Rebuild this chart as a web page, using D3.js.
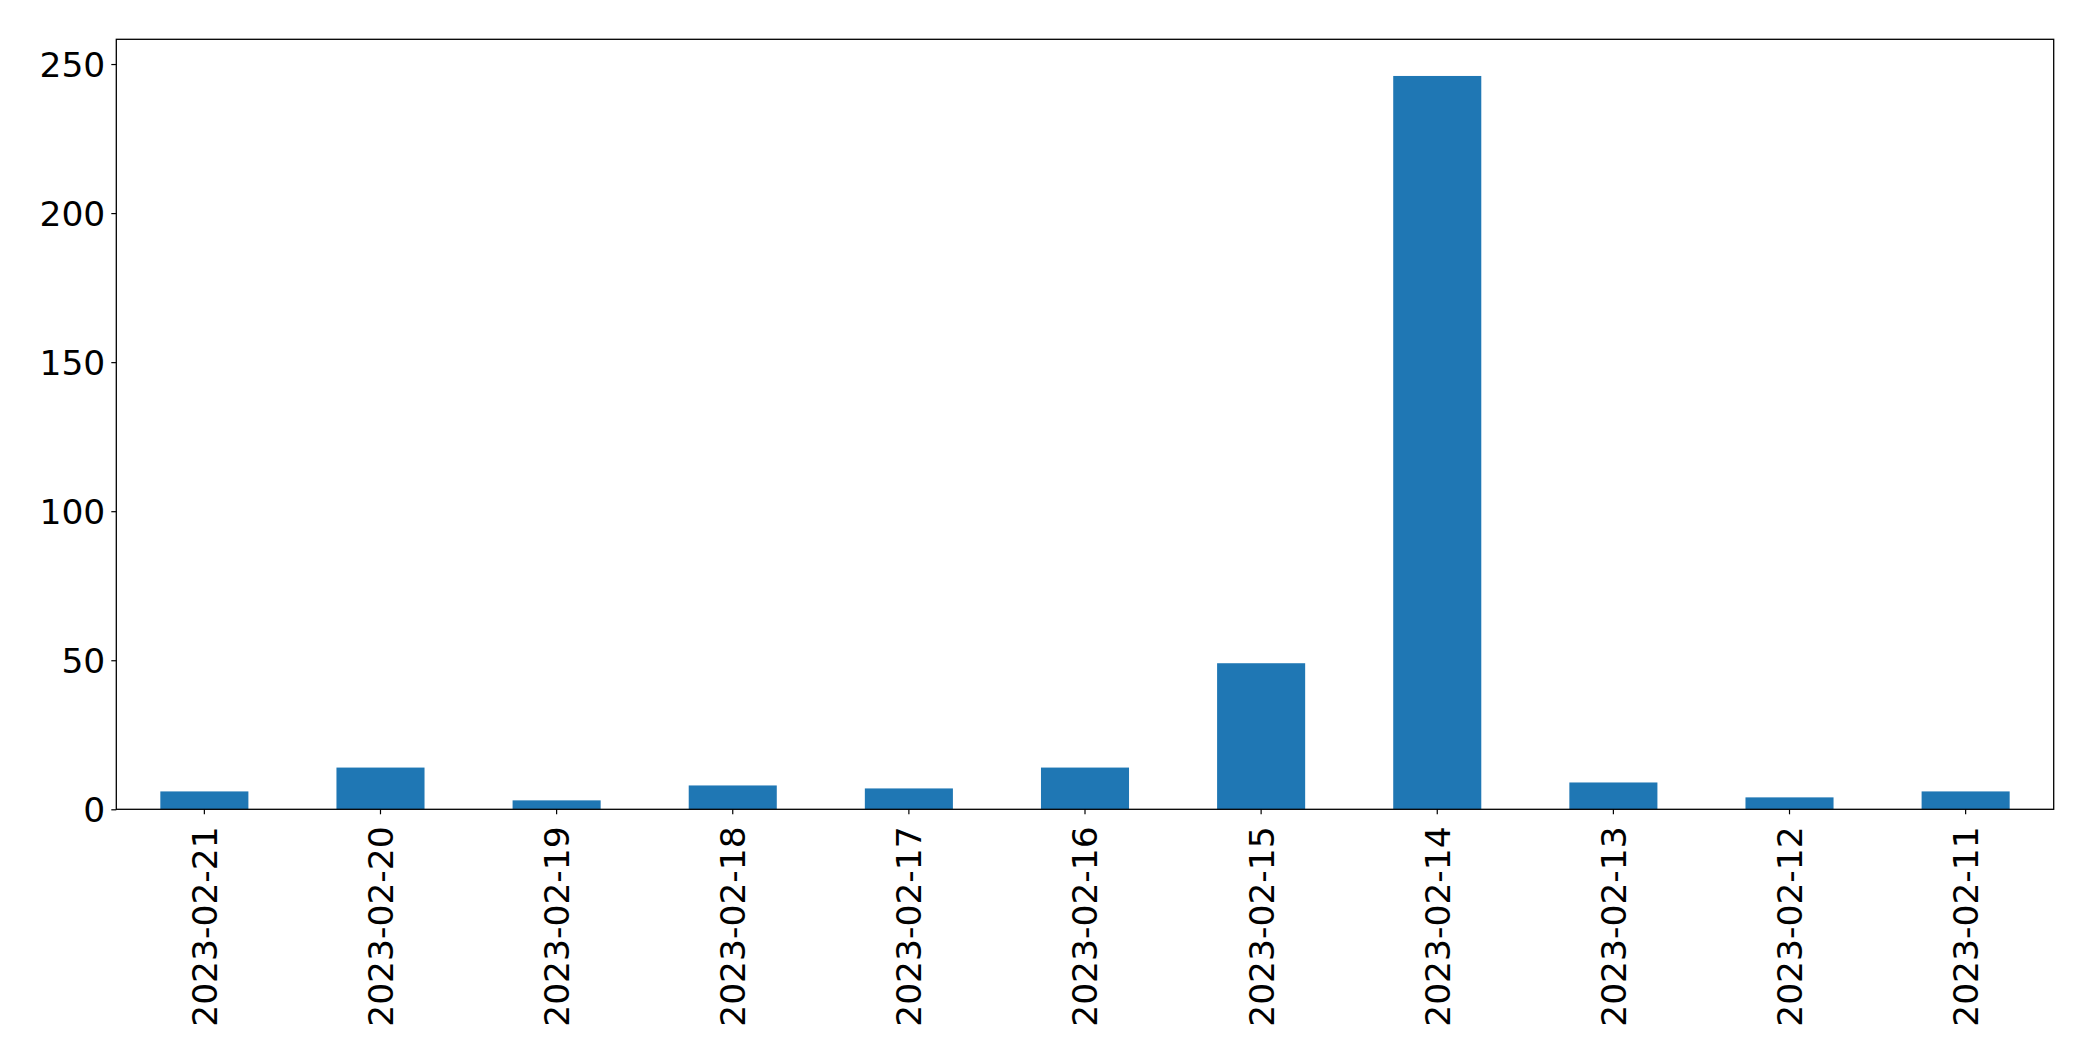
<!DOCTYPE html>
<html>
<head>
<meta charset="utf-8">
<script src="https://cdn.jsdelivr.net/npm/d3@7"></script>
<style>
  html, body { margin: 0; padding: 0; background: #fff; }
  svg { display: block; }
  text { font-family: "DejaVu Sans", sans-serif; fill: #000; }
</style>
</head>
<body>
<svg id="chart" width="2093" height="1061"></svg>
<script>
const categories = ["2023-02-21","2023-02-20","2023-02-19","2023-02-18","2023-02-17","2023-02-16","2023-02-15","2023-02-14","2023-02-13","2023-02-12","2023-02-11"];
const values = [6, 14, 3, 8, 7, 14, 49, 246, 9, 4, 6];
const yTicks = [0, 50, 100, 150, 200, 250];

const W = 2093, H = 1061;
const margin = {left: 116.3, right: W - 2053.7, top: 39.3, bottom: H - 809.3};
const svg = d3.select("#chart");
const g = svg.append("g").attr("transform", `translate(${margin.left},${margin.top})`);
const iw = W - margin.left - margin.right;
const ih = H - margin.top - margin.bottom;

const x = d3.scaleBand().domain(categories).range([0, iw]).paddingInner(0.5).paddingOuter(0.25);
const y = d3.scaleLinear().domain([0, d3.max(values) * 1.05]).range([ih, 0]);

g.selectAll("rect.bar").data(values).join("rect")
  .attr("class", "bar")
  .attr("x", (d, i) => x(categories[i]))
  .attr("width", x.bandwidth())
  .attr("y", d => y(d))
  .attr("height", d => y(0) - y(d))
  .attr("fill", "#1f77b4");

const fs = 34.5;
const yAxis = g.append("g").call(d3.axisLeft(y).tickValues(yTicks).tickSize(5).tickPadding(6).tickFormat(d3.format("d")));
yAxis.select(".domain").remove();
yAxis.selectAll("line").attr("stroke", "#000").attr("stroke-width", 1.2);
yAxis.selectAll("text").style("font-size", fs + "px").attr("font-family", "DejaVu Sans").attr("dy", "0.36em");

const xAxis = g.append("g").attr("transform", `translate(0,${ih})`)
  .call(d3.axisBottom(x).tickSize(5).tickPadding(0));
xAxis.select(".domain").remove();
xAxis.selectAll("line").attr("stroke", "#000").attr("stroke-width", 1.2);
xAxis.selectAll("text")
  .style("font-size", fs + "px").attr("font-family", "DejaVu Sans")
  .attr("text-anchor", "end")
  .attr("transform", "translate(0,17) rotate(-90)")
  .attr("x", 0).attr("y", 0).attr("dy", "0.36em");

g.append("rect").attr("x", 0).attr("y", 0).attr("width", iw).attr("height", ih)
  .attr("fill", "none").attr("stroke", "#000").attr("stroke-width", 1.3);
</script>
</body>
</html>
